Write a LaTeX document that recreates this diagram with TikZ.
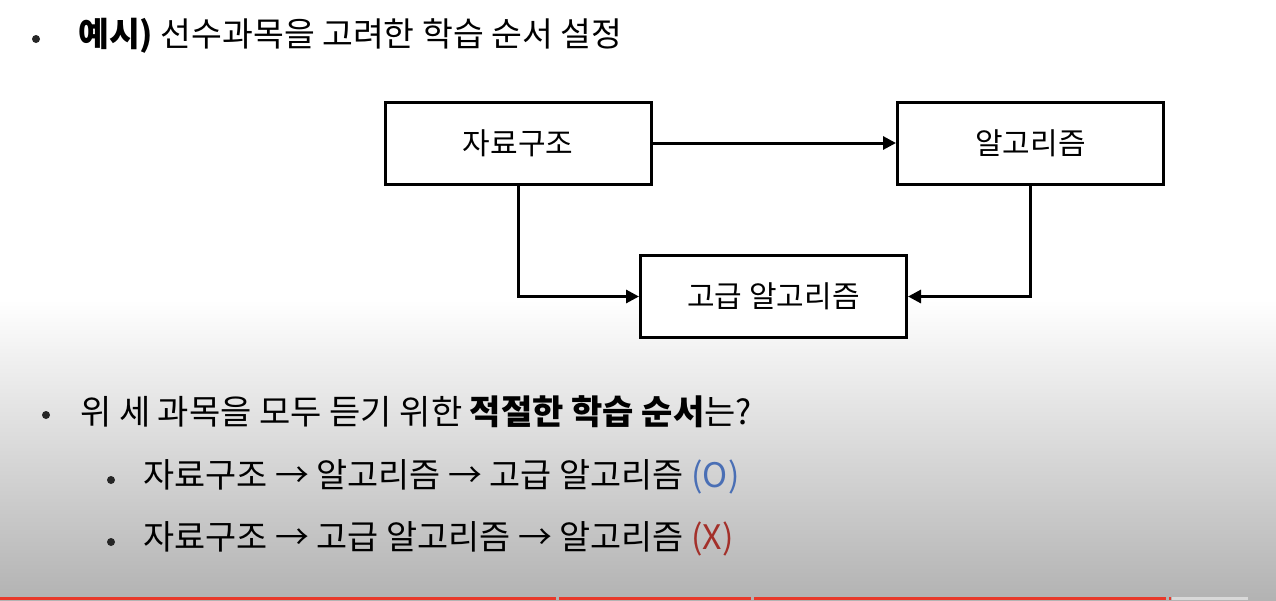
\documentclass[tikz,border=0pt]{standalone}
\usepackage{fontspec}
\newfontfamily\kr{Noto Sans CJK KR}
\usetikzlibrary{arrows.meta}
\definecolor{okblue}{HTML}{4A6FB5}
\definecolor{nored}{HTML}{A3302A}
\definecolor{barred}{HTML}{E8392A}
\tikzset{
  box/.style={draw=black, line width=3pt, fill=white, minimum width=266pt, minimum height=82pt, font=\kr\fontsize{30}{34}\selectfont},
  conn/.style={draw=black, line width=3pt, -{Triangle[length=13pt,width=13pt]}},
  txt/.style={anchor=west, inner sep=0pt, font=\kr\fontsize{33.5}{38}\selectfont},
  qtxt/.style={anchor=west, inner sep=0pt, font=\kr\fontsize{34}{38}\selectfont},
  subtxt/.style={anchor=west, inner sep=0pt, font=\kr\fontsize{33.8}{38}\selectfont},
  dot/.style={circle, fill=black!85, inner sep=0pt, minimum size=8pt}
}
\begin{document}
\begin{tikzpicture}[x=1pt,y=-1pt]
\useasboundingbox (0,0) rectangle (1276,600);
\fill[white] (0,0) rectangle (1276,300);
\shade[top color=white, bottom color=black!30] (0,300) rectangle (1276,600);
% title
\node[dot] (b0) at (36,39) {};
\node[txt] (title) at (78,36) {{\bfseries 예시)} 선수과목을 고려한 학습 순서 설정};
% boxes
\node[box] (ds) at (518,143) {자료구조};
\node[box] (al) at (1030.5,143) {알고리즘};
\node[box] (adv) at (773.5,296.5) {고급 알고리즘};
\draw[conn] (ds.east) -- (al.west);
\draw[conn] (ds.south) |- (adv.west);
\draw[conn] (al.south) |- (adv.east);
% question
\node[dot] (b1) at (46,415) {};
\node[qtxt] (q) at (80,412) {위 세 과목을 모두 듣기 위한 {\bfseries 적절한 학습 순서}는?};
\node[dot] (b2) at (111,480) {};
\node[subtxt] (a1) at (143,477) {자료구조 → 알고리즘 → 고급 알고리즘 \textcolor{okblue}{(O)}};
\node[dot] (b3) at (111,542) {};
\node[subtxt] (a2) at (143,539) {자료구조 → 고급 알고리즘 → 알고리즘 \textcolor{nored}{(X)}};
% progress bar
\fill[barred] (0,596.5) rectangle (556,600);
\fill[barred] (559,596.5) rectangle (751,600);
\fill[barred] (754,596.5) rectangle (1166,600);
\fill[barred] (1169,596.5) rectangle (1171,600);
\fill[black!15] (1172,596.5) rectangle (1248,600);
\end{tikzpicture}
\end{document}
